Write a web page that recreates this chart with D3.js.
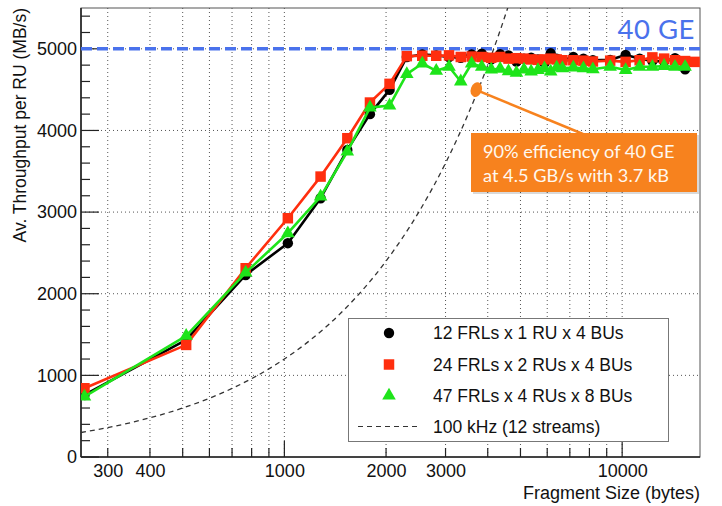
<!DOCTYPE html>
<html>
<head>
<meta charset="utf-8">
<script src="https://cdn.jsdelivr.net/npm/d3@7"></script>
<style>
  html, body { margin: 0; padding: 0; background: #fff; }
  svg { display: block; }
</style>
</head>
<body>
<svg id="chart" width="722" height="506"></svg>
<script>
// ---------- data ----------
const sizes = [256, 512, 768, 1024, 1280, 1536, 1792, 2048, 2304, 2560, 2816, 3072, 3328, 3584, 3840, 4096,
  4352, 4608, 4864, 5120, 5376, 5632, 5888, 6144, 6400, 6656, 7168, 7680, 8192, 9216, 10240, 11264,
  12288, 13312, 14336, 15360, 16384];
const black = [760, 1434, 2230, 2619, 3170, 3762, 4200, 4497, 4900, 4930, 4920, 4900, 4890, 4930, 4940, 4870,
  4935, 4920, 4845, 4880, 4890, 4870, 4825, 4945, 4880, 4860, 4900, 4880, 4860, 4865, 4925, 4880,
  4850, 4845, 4885, 4750, null];
const red = [842, 1373, 2312, 2925, 3435, 3905, 4342, 4571, 4910, 4915, 4915, 4920, 4900, 4905, 4900, 4890,
  4900, 4880, 4885, 4880, 4870, 4865, 4870, 4880, 4870, 4860, 4860, 4855, 4845, 4855, 4840, 4860,
  4895, 4880, 4860, 4850, 4840];
const green = [739, 1483, 2259, 2741, 3190, 3741, 4280, 4305, 4690, 4820, 4730, 4780, 4600, 4820, 4780, 4745,
  4755, 4725, 4705, 4745, 4720, 4740, 4760, 4720, 4770, 4760, 4770, 4760, 4750, 4780, 4740, 4780,
  4780, 4790, 4780, 4780, null];
const streamSizes = [250, 300, 400, 500, 600, 700, 800, 900, 1000, 1200, 1500, 2000, 2500, 3000, 3500, 4000, 4300, 4600];
const streamRate = [300, 360, 480, 600, 720, 840, 960, 1080, 1200, 1440, 1800, 2400, 3000, 3600, 4200, 4800, 5160, 5520];
const xTickLabels = [300, 400, 1000, 2000, 3000, 10000];
const xGridValues = [300, 400, 500, 600, 700, 800, 900, 1000, 2000, 3000, 4000, 5000, 6000, 7000, 8000, 9000, 10000];
const yTickLabels = [0, 1000, 2000, 3000, 4000, 5000];
const limit40GE = 5000;
const seriesNames = ["12 FRLs x 1 RU x 4 BUs", "24 FRLs x 2 RUs x 4 BUs", "47 FRLs x 4 RUs x 8 BUs", "100 kHz (12 streams)"];
const annotationLines = ["90% efficiency of 40 GE", "at 4.5 GB/s with 3.7 kB"];
const annotationPoint = [3700, 4500];

// ---------- layout ----------
const svg = d3.select("#chart");
const L = 81, R = 700, T = 8, B = 457;
const x = d3.scaleLog().domain([250, 17000]).range([L, R]);
const y = d3.scaleLinear().domain([0, 5500]).range([B, T]);
const FONT = "'Liberation Sans', Arial, Helvetica, sans-serif";
const GILL = "Lato, 'Open Sans', sans-serif";
const FS = 17.5;

const C_BLACK = "#000000", C_RED = "#ff2e0e", C_GREEN = "#1ee41a", C_BLUE = "#4a72ec", C_ORANGE = "#f7821e";

// grid
const grid = svg.append("g");
grid.selectAll("line.vx").data(xGridValues).join("line")
  .attr("x1", d => x(d)).attr("x2", d => x(d)).attr("y1", T).attr("y2", B)
  .attr("stroke", "#555").attr("stroke-width", 1).attr("stroke-dasharray", "1,3");
grid.selectAll("line.hy").data(yTickLabels.filter(d => d > 0)).join("line")
  .attr("x1", L).attr("x2", R).attr("y1", d => y(d)).attr("y2", d => y(d))
  .attr("stroke", "#555").attr("stroke-width", 1).attr("stroke-dasharray", "1,3");

// frame
svg.append("rect").attr("x", L).attr("y", T).attr("width", R - L).attr("height", B - T)
  .attr("fill", "none").attr("stroke", "#555").attr("stroke-width", 1);

// y axis
const yMinor = d3.range(0, 5501, 200);
svg.append("g").selectAll("line").data(yMinor).join("line")
  .attr("x1", L).attr("x2", d => L + (d % 1000 === 0 ? 18 : 9))
  .attr("y1", d => y(d)).attr("y2", d => y(d))
  .attr("stroke", "#222").attr("stroke-width", 1.2);
const yl = svg.append("g").attr("transform", `translate(${L},0)`)
  .call(d3.axisLeft(y).tickValues(yTickLabels).tickSize(0).tickPadding(4).tickFormat(d3.format("d")));
yl.select(".domain").remove();
yl.selectAll("text").attr("font-family", FONT).attr("font-size", FS + 0.5).attr("fill", "#111");

// x axis ticks
const xTicks = [];
for (const dec of [100, 1000, 10000]) for (let k = 1; k <= 9; k++) { const v = dec * k; if (v >= 250 && v <= 17000) xTicks.push(v); }
svg.append("g").selectAll("line").data(xTicks).join("line")
  .attr("x1", d => x(d)).attr("x2", d => x(d))
  .attr("y1", B).attr("y2", d => B - ((d === 1000 || d === 10000) ? 16 : 9))
  .attr("stroke", "#222").attr("stroke-width", 1.2);
const xl = svg.append("g").attr("transform", `translate(0,${B})`)
  .call(d3.axisBottom(x).tickValues(xTickLabels).tickSize(0).tickPadding(7).tickFormat(d3.format("d")));
xl.select(".domain").remove();
xl.selectAll("text").attr("font-family", FONT).attr("font-size", FS + 0.5).attr("fill", "#111");

// axis lines (left, bottom)
svg.append("line").attr("x1", L).attr("x2", L).attr("y1", T).attr("y2", B).attr("stroke", "#222").attr("stroke-width", 1.6);
svg.append("line").attr("x1", L).attr("x2", R).attr("y1", B).attr("y2", B).attr("stroke", "#222").attr("stroke-width", 1.6);

// axis titles
svg.append("text").attr("transform", `translate(26,${T}) rotate(-90)`)
  .attr("text-anchor", "end").attr("font-family", FONT).attr("font-size", FS).attr("fill", "#111")
  .text("Av. Throughput per RU (MB/s)");
svg.append("text").attr("x", R).attr("y", 499).attr("text-anchor", "end")
  .attr("font-family", FONT).attr("font-size", FS + 0.5).attr("fill", "#111").text("Fragment Size (bytes)");

// clip
svg.append("clipPath").attr("id", "clip").append("rect").attr("x", L).attr("y", T).attr("width", R - L).attr("height", B - T);
const plot = svg.append("g").attr("clip-path", "url(#clip)");

// 100 kHz curve
plot.append("path").datum(streamSizes.map((s, i) => [s, streamRate[i]]))
  .attr("d", d3.line().x(d => x(d[0])).y(d => y(d[1])).curve(d3.curveMonotoneX))
  .attr("fill", "none").attr("stroke", "#333").attr("stroke-width", 1.3).attr("stroke-dasharray", "5,4");

// 40 GE line
plot.append("line").attr("x1", L).attr("x2", R).attr("y1", y(limit40GE)).attr("y2", y(limit40GE))
  .attr("stroke", C_BLUE).attr("stroke-width", 3.5).attr("stroke-dasharray", "11,5");
svg.append("text").attr("x", 695).attr("y", 39).attr("text-anchor", "end")
  .attr("font-family", GILL).attr("font-size", 27.5).attr("letter-spacing", 0.5).attr("fill", C_BLUE).text("40 GE");

// series
const series = [
  { vals: black, color: C_BLACK, shape: "circle" },
  { vals: red, color: C_RED, shape: "square" },
  { vals: green, color: C_GREEN, shape: "triangle" }
];
const symType = { circle: d3.symbolCircle, square: d3.symbolSquare, triangle: d3.symbolTriangle };
const symSize = { circle: 85, square: 110, triangle: 80 };
series.forEach(s => {
  const pts = sizes.map((sz, i) => [sz, s.vals[i]]).filter(d => d[1] != null);
  plot.append("path").datum(pts)
    .attr("d", d3.line().x(d => x(d[0])).y(d => y(d[1])))
    .attr("fill", "none").attr("stroke", s.color).attr("stroke-width", 2.6).attr("stroke-linejoin", "round");
  plot.selectAll(null).data(pts).join("path")
    .attr("transform", d => `translate(${x(d[0])},${y(d[1])})`)
    .attr("d", d3.symbol().type(symType[s.shape]).size(symSize[s.shape]))
    .attr("fill", s.color);
});

// annotation
const ax = x(annotationPoint[0]) + 0, ay = y(annotationPoint[1]);
svg.append("line").attr("x1", ax + 4).attr("y1", ay + 2).attr("x2", 583).attr("y2", 134)
  .attr("stroke", C_ORANGE).attr("stroke-width", 2.5);
svg.append("ellipse").attr("cx", ax).attr("cy", ay).attr("rx", 5.5).attr("ry", 7.5)
  .attr("transform", `rotate(20,${ax},${ay})`).attr("fill", C_ORANGE);
svg.append("rect").attr("x", 473).attr("y", 135).attr("width", 226).attr("height", 59)
  .attr("fill", "#000").attr("opacity", 0.15);
svg.append("rect").attr("x", 471).attr("y", 133).attr("width", 226).attr("height", 59).attr("fill", C_ORANGE);
svg.append("g").selectAll("text").data(annotationLines).join("text")
  .attr("x", 483).attr("y", (d, i) => 158 + i * 23.5)
  .attr("font-family", GILL).attr("font-size", 18.2).attr("fill", "#fff8ef").text(d => d);

// legend
const lg = svg.append("g");
lg.append("rect").attr("x", 348.5).attr("y", 318.5).attr("width", 320).attr("height", 123)
  .attr("fill", "#fff").attr("stroke", "#777").attr("stroke-width", 1);
const rowsY = [333, 364.5, 395.5, 426.5];
series.forEach((s, i) => {
  lg.append("path").attr("transform", `translate(389,${rowsY[i]})`)
    .attr("d", d3.symbol().type(symType[s.shape]).size(symSize[s.shape])).attr("fill", s.color);
});
lg.append("line").attr("x1", 358).attr("x2", 421).attr("y1", rowsY[3]).attr("y2", rowsY[3])
  .attr("stroke", "#333").attr("stroke-width", 1.2).attr("stroke-dasharray", "5,4");
lg.selectAll("text").data(seriesNames).join("text")
  .attr("x", 433).attr("y", (d, i) => rowsY[i]).attr("dy", "0.35em")
  .attr("font-family", FONT).attr("font-size", FS).attr("fill", "#111").text(d => d);
</script>
</body>
</html>
